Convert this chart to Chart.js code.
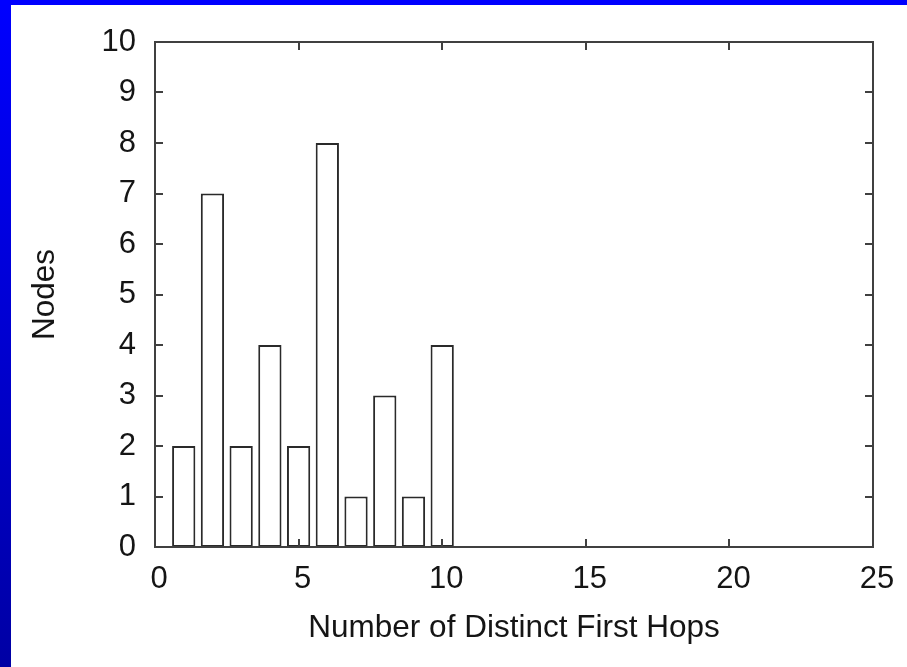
<!DOCTYPE html>
<html>
<head>
<meta charset="utf-8">
<script src="https://cdn.jsdelivr.net/npm/chart.js@4"></script>
<style>
  html, body { margin: 0; padding: 0; width: 907px; height: 667px; overflow: hidden; }
  body { position: relative; background: #ffffff; }
  #leftbar { position: absolute; left: 0; top: 0; width: 11px; height: 667px; background: linear-gradient(#0000ff, #0000a4); }
  #topbar { position: absolute; left: 0; top: 0; width: 907px; height: 5px; background: #0000ff; }
  #wrap { position: absolute; left: 0; top: 0; width: 907px; height: 667px; }
</style>
</head>
<body>
<div id="leftbar"></div>
<div id="topbar"></div>
<div id="wrap"><canvas id="c" width="907" height="667"></canvas></div>
<script>
const firstHops = [1, 2, 3, 4, 5, 6, 7, 8, 9, 10];
const nodes = [2, 7, 2, 4, 2, 8, 1, 3, 1, 4];
const xTicks = [0, 5, 10, 15, 20, 25];
const yTicks = [0, 1, 2, 3, 4, 5, 6, 7, 8, 9, 10];
const xTitle = 'Number of Distinct First Hops';
const yTitle = 'Nodes';

const frameColor = '#404040';
const textColor = '#151515';
const fontFamily = '"Liberation Sans", Arial, sans-serif';

const innerTicks = {
  id: 'innerTicks',
  afterDraw(chart) {
    const ctx = chart.ctx;
    const a = chart.chartArea;
    const xs = chart.scales.x, ys = chart.scales.y;
    const len = 8;
    ctx.save();
    ctx.strokeStyle = frameColor;
    ctx.lineWidth = 2;
    ctx.beginPath();
    xTicks.forEach(v => {
      if (v === xs.min || v === xs.max) return;
      const p = Math.round(xs.getPixelForValue(v));
      ctx.moveTo(p, a.bottom); ctx.lineTo(p, a.bottom - len);
      ctx.moveTo(p, a.top); ctx.lineTo(p, a.top + len);
    });
    yTicks.forEach(v => {
      if (v === ys.min || v === ys.max) return;
      const p = Math.round(ys.getPixelForValue(v));
      ctx.moveTo(a.left, p); ctx.lineTo(a.left + len, p);
      ctx.moveTo(a.right, p); ctx.lineTo(a.right - len, p);
    });
    ctx.stroke();
    ctx.strokeRect(a.left, a.top, a.right - a.left, a.bottom - a.top);
    ctx.restore();
  }
};

new Chart(document.getElementById('c'), {
  type: 'bar',
  data: {
    datasets: [{
      data: firstHops.map((x, i) => ({ x: x, y: nodes[i] })),
      backgroundColor: '#ffffff',
      borderColor: '#2a2a2a',
      borderWidth: 2,
      borderSkipped: false,
      barPercentage: 0.81,
      categoryPercentage: 1.0
    }]
  },
  options: {
    responsive: false,
    animation: false,
    devicePixelRatio: 1,
    layout: { padding: { left: 11, top: 42, right: 34, bottom: 0 } },
    plugins: { legend: { display: false }, tooltip: { enabled: false } },
    scales: {
      x: {
        type: 'linear',
        offset: false,
        min: 0, max: 25,
        afterBuildTicks: s => { s.ticks = xTicks.map(v => ({ value: v })); },
        afterFit: s => { s.height = 120; },
        grid: { display: false, drawTicks: false, offset: false },
        border: { display: false },
        ticks: { color: textColor, font: { family: fontFamily, size: 31 }, padding: 14, labelOffset: 4, maxRotation: 0, autoSkip: false },
        title: { display: true, text: xTitle, color: textColor, font: { family: fontFamily, size: 31.5 }, padding: { top: 0, bottom: 20 } }
      },
      y: {
        min: 0, max: 10,
        afterBuildTicks: s => { s.ticks = yTicks.map(v => ({ value: v })); },
        afterFit: s => { s.width = 144; },
        grid: { display: false, drawTicks: false },
        border: { display: false },
        ticks: { color: textColor, font: { family: fontFamily, size: 31 }, padding: 19, autoSkip: false },
        title: { display: true, text: yTitle, color: textColor, font: { family: fontFamily, size: 31.5 }, padding: { top: 15, bottom: 0 } }
      }
    }
  },
  plugins: [innerTicks]
});
</script>
</body>
</html>
